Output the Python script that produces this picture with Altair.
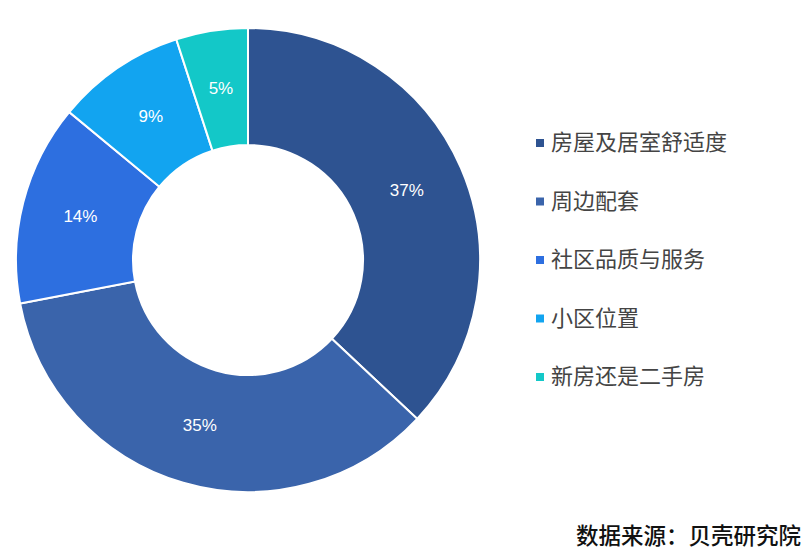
import altair as alt
import pandas as pd

categories = ["房屋及居室舒适度", "周边配套", "社区品质与服务", "小区位置", "新房还是二手房"]
values = [37, 35, 14, 9, 5]
labels = ["37%", "35%", "14%", "9%", "5%"]
colors = ["#2e5391", "#3a64ab", "#2d6fe0", "#12a4f0", "#13c8c8"]
source_text = "数据来源：贝壳研究院"

df = pd.DataFrame({
    "cat": categories,
    "value": values,
    "label": labels,
    "order": list(range(len(categories))),
})

cx, cy = 240, 252

base = alt.Chart(df).encode(
    theta=alt.Theta("value:Q", stack=True),
    order=alt.Order("order:Q"),
)

arcs = base.mark_arc(innerRadius=115, outerRadius=232, stroke="white", strokeWidth=2).encode(
    x=alt.value(cx),
    y=alt.value(cy),
    color=alt.Color(
        "cat:N",
        scale=alt.Scale(domain=categories, range=colors),
        legend=alt.Legend(
            title=None,
            orient="none",
            legendX=521,
            legendY=124,
            symbolType="square",
            symbolSize=64,
            symbolStrokeWidth=0,
            labelFont="Noto Sans CJK SC",
            labelFontSize=22,
            labelColor="#444444",
            labelOffset=0,
            rowPadding=36.5,
            labelLimit=300,
        ),
    ),
)

texts = base.mark_text(radius=173, font="Liberation Sans", fontSize=17, color="white").encode(
    x=alt.value(cx),
    y=alt.value(cy),
    text="label:N",
)

src = alt.Chart(pd.DataFrame({"t": [source_text]})).mark_text(
    font="Noto Sans CJK SC", fontSize=22.5, fontWeight=500, color="#111111",
    align="right", baseline="middle",
).encode(x=alt.value(793), y=alt.value(529), text="t:N")

chart = alt.layer(arcs, texts, src).properties(
    width=793, height=537, padding=0
).configure_view(stroke=None)

chart.save("out.html", embed_options={"renderer": "svg", "actions": False})
